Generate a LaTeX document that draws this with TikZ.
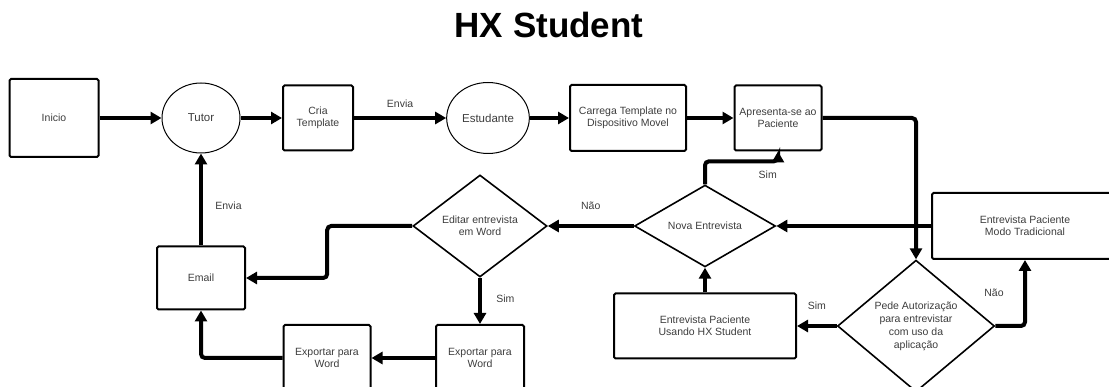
\documentclass[tikz,border=0pt]{standalone}
\usepackage{fontspec}
\setmainfont{Liberation Sans}
\usetikzlibrary{shapes.geometric, arrows.meta}
\definecolor{txtgray}{RGB}{60,60,60}

\tikzset{
  procbox/.style={draw, line width=2pt, rounded corners=1.5pt, align=center, inner sep=0pt,
    text=txtgray, font=\fontsize{10.5}{12}\selectfont},
  actor/.style={draw, ellipse, line width=1pt, minimum width=78pt, minimum height=70pt,
    text=txtgray, font=\fontsize{11.5}{13}\selectfont},
  decision/.style={draw, diamond, line width=1.6pt, inner sep=0pt, align=center,
    text=txtgray, font=\fontsize{10.5}{12}\selectfont},
  flow/.style={line width=4pt, rounded corners=4pt, -{Triangle[length=11pt, width=12pt]}},
  flowlbl/.style={text=txtgray, font=\fontsize{10.5}{12}\selectfont}
}

\begin{document}
\begin{tikzpicture}[x=1pt, y=-1pt]
  \useasboundingbox (0,0) rectangle (1109,387);
  \clip (0,0) rectangle (1109,387);

  \node[font=\fontsize{35}{40}\selectfont\bfseries] (titulo) at (549,25) {HX Student};

  % linha de cima
  \node[procbox, minimum width=89pt, minimum height=78pt] (inicio) at (54,118) {Inicio};
  \node[actor] (tutor) at (201,118) {Tutor};
  \node[procbox, minimum width=70pt, minimum height=65pt] (cria) at (318,118) {Cria\\Template};
  \node[actor, minimum height=71pt] (estudante) at (488,118) {Estudante};
  \node[procbox, minimum width=116pt, minimum height=66pt] (carrega) at (628,118) {Carrega Template no\\Dispositivo Movel};
  \node[procbox, minimum width=87pt, minimum height=65pt] (apresenta) at (778,118) {Apresenta-se ao\\Paciente};

  % entrevista
  \node[decision, minimum width=157pt, minimum height=115pt, font=\fontsize{10.5}{13}\selectfont] (pede) at (916,326) {Pede Autorização\\para entrevistar\\com uso da\\aplicação};
  \node[procbox, minimum width=186pt, minimum height=66pt] (modo) at (1025,226) {Entrevista Paciente\\Modo Tradicional};
  \node[procbox, minimum width=182pt, minimum height=65pt] (hx) at (705,326) {Entrevista Paciente\\Usando HX Student};
  \node[decision, minimum width=141pt, minimum height=63pt] (nova) at (705,226) {Nova Entrevista};
  \node[decision, minimum width=134pt, minimum height=102pt] (editar) at (480,226) {Editar entrevista\\em Word};

  % saida
  \node[procbox, minimum width=88pt, minimum height=63pt] (email) at (201,278) {Email};
  \node[procbox, minimum width=88pt, minimum height=66pt] (exportB) at (480,358) {Exportar para\\Word};
  \node[procbox, minimum width=87pt, minimum height=66pt] (exportA) at (327,358) {Exportar para\\Word};

  \draw[flow] (inicio.east) -- (tutor.west);
  \draw[flow] (tutor.east) -- (cria.west);
  \draw[flow] (cria.east) -- node[flowlbl, above=5pt] {Envia} (estudante.west);
  \draw[flow] (estudante.east) -- (carrega.west);
  \draw[flow] (carrega.east) -- (apresenta.west);
  \draw[flow] (apresenta.east) -| (pede.north);
  \draw[flow] (pede.west) -- node[flowlbl, above=11pt] {Sim} (hx.east);
  \draw[flow] (pede.east) -| node[flowlbl, pos=0.75, left=16pt] {Não} (modo.south);
  \draw[flow] (modo.west) -- (nova.east);
  \draw[flow] (hx.north) -- (nova.south);
  \draw[flow] (nova.north) -- ++(0,-23) -| node[flowlbl, pos=0.43, below=4pt] {Sim} (apresenta.south);
  \draw[flow] (nova.west) -- node[flowlbl, above=11pt] {Não} (editar.east);
  \draw[flow] (editar.west) -- ++(-85,0) |- (email.east);
  \draw[flow] (email.north) -- node[flowlbl, pos=0.43, right=9pt] {Envia} (tutor.south);
  \draw[flow] (editar.south) -- node[flowlbl, pos=0.45, right=11pt] {Sim} (exportB.north);
  \draw[flow] (exportB.west) -- (exportA.east);
  \draw[flow] (exportA.west) -| (email.south);
\end{tikzpicture}
\end{document}
